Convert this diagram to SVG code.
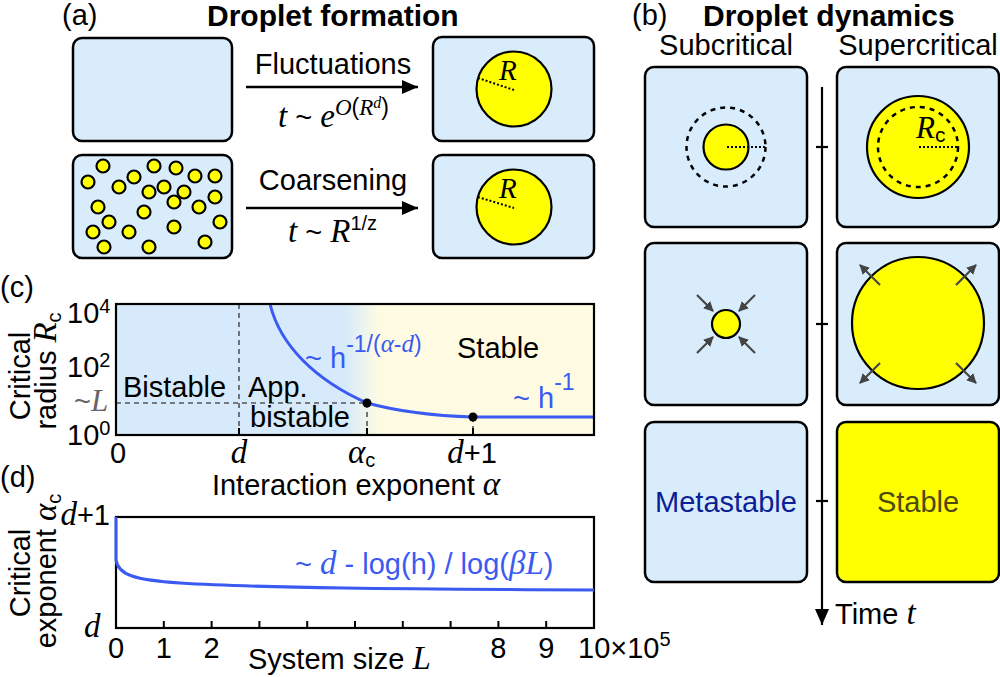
<svg xmlns="http://www.w3.org/2000/svg" width="1000" height="677" viewBox="0 0 1000 677">
<defs>
<style>
.box{fill:#d9ecfb;stroke:#000;stroke-width:2.5}
.ybox{fill:#ffff00;stroke:#000;stroke-width:2.5}
.drop{fill:#ffff00;stroke:#000;stroke-width:2.2}
.t{font-family:"Liberation Sans",Arial,sans-serif;font-size:29px;fill:#000}
.b{font-weight:bold;font-size:30px}
.m{font-family:"Liberation Serif","Times New Roman",serif;font-style:italic}
.mm{font-size:33px}
.blue{fill:#3a5af2}
.dot{stroke:#000;stroke-width:2;stroke-dasharray:2,2;fill:none}
.dash{stroke:#000;stroke-width:2.5;stroke-dasharray:5,5;fill:none}
.gdash{stroke:#555;stroke-width:1.6;stroke-dasharray:5,4;fill:none}
.garr{stroke:#444;stroke-width:2.2;fill:none;marker-end:url(#gh)}
.curve{stroke:#3a5af2;stroke-width:3;fill:none}
</style>
<marker id="ah" markerUnits="userSpaceOnUse" markerWidth="16" markerHeight="14" refX="16" refY="7" orient="auto">
<path d="M0,0 L16,7 L0,14 Z" fill="#000"/>
</marker>
<marker id="gh" markerUnits="userSpaceOnUse" markerWidth="10" markerHeight="10" refX="9" refY="5" orient="auto">
<path d="M0,0 L10,5 L0,10 Z" fill="#444"/>
</marker>
<linearGradient id="bg" x1="116" y1="0" x2="594" y2="0" gradientUnits="userSpaceOnUse">
<stop offset="0" stop-color="#d6eafb"/>
<stop offset="0.48" stop-color="#d6eafb"/>
<stop offset="0.55" stop-color="#fffbe3"/>
<stop offset="1" stop-color="#fffbe3"/>
</linearGradient>
</defs>
<rect width="1000" height="677" fill="#fff"/>

<!-- panel (a) -->
<text class="t" x="62" y="25" font-size="27">(a)</text>
<text class="t b" x="207" y="26">Droplet formation</text>

<g id="a-empty"><rect class="box" x="73" y="38" width="159" height="103" rx="9"/></g>
<g id="a-dots"><rect class="box" x="73" y="155" width="159" height="103" rx="9"/>
<g class="drop" stroke-width="1.8">
<circle cx="103" cy="166" r="6.5"/><circle cx="154" cy="166" r="6.5"/><circle cx="176" cy="168" r="6.5"/>
<circle cx="88" cy="182" r="6.5"/><circle cx="134" cy="177" r="6.5"/><circle cx="195" cy="176" r="6.5"/>
<circle cx="215" cy="176" r="6.5"/><circle cx="119" cy="187" r="6.5"/><circle cx="164" cy="187" r="6.5"/>
<circle cx="149" cy="192" r="6.5"/><circle cx="184" cy="192" r="6.5"/><circle cx="215" cy="197" r="6.5"/>
<circle cx="174" cy="202" r="6.5"/><circle cx="98" cy="207" r="6.5"/><circle cx="199" cy="207" r="6.5"/>
<circle cx="144" cy="212" r="6.5"/><circle cx="109" cy="222" r="6.5"/><circle cx="220" cy="222" r="6.5"/>
<circle cx="93" cy="232" r="6.5"/><circle cx="129" cy="232" r="6.5"/><circle cx="174" cy="227" r="6.5"/>
<circle cx="104" cy="247" r="6.5"/><circle cx="149" cy="247" r="6.5"/><circle cx="205" cy="242" r="6.5"/>
</g></g>
<g id="a-drop1"><rect class="box" x="433" y="37" width="161" height="104" rx="9"/>
<circle class="drop" cx="514" cy="89" r="37.5"/>
<line class="dot" x1="478" y1="78" x2="514" y2="90"/>
<text class="t m" x="499" y="80" font-size="30">R</text></g>
<g id="a-drop2"><rect class="box" x="433" y="155" width="161" height="103" rx="9"/>
<circle class="drop" cx="514" cy="207" r="37.5"/>
<line class="dot" x1="478" y1="197" x2="514" y2="208"/>
<text class="t m" x="499" y="198" font-size="30">R</text></g>

<g id="a-connectors">
<line x1="246" y1="87" x2="418" y2="87" stroke="#000" stroke-width="2.5" marker-end="url(#ah)"/>
<line x1="246" y1="208" x2="418" y2="208" stroke="#000" stroke-width="2.5" marker-end="url(#ah)"/>
</g>
<text class="t" x="333" y="74" text-anchor="middle">Fluctuations</text>
<text class="t" x="278" y="127"><tspan class="m mm">t</tspan><tspan> ~ </tspan><tspan class="m mm">e</tspan><tspan class="m" font-size="23" dy="-12">O</tspan><tspan font-size="23">(</tspan><tspan class="m" font-size="23">R</tspan><tspan class="m" font-size="16" dy="-7">d</tspan><tspan font-size="23" dy="7">)</tspan></text>
<text class="t" x="333" y="190" text-anchor="middle">Coarsening</text>
<text class="t" x="288" y="242"><tspan class="m mm">t</tspan><tspan> ~ </tspan><tspan class="m mm">R</tspan><tspan font-size="20" dy="-12">1/z</tspan></text>

<!-- panel (b) -->
<text class="t" x="632" y="25" font-size="27">(b)</text>
<text class="t b" x="703" y="26">Droplet dynamics</text>
<text class="t" x="726" y="55" text-anchor="middle">Subcritical</text>
<text class="t" x="918" y="55" text-anchor="middle">Supercritical</text>

<g id="b-time">
<line x1="822" y1="87" x2="822" y2="625" stroke="#000" stroke-width="2.2" marker-end="url(#ah)"/>
<line x1="816" y1="147" x2="828" y2="147" stroke="#000" stroke-width="2.2"/>
<line x1="816" y1="324" x2="828" y2="324" stroke="#000" stroke-width="2.2"/>
<line x1="816" y1="501" x2="828" y2="501" stroke="#000" stroke-width="2.2"/>
<text class="t" x="835" y="624">Time <tspan class="m mm">t</tspan></text>
</g>

<g id="b-sub1"><rect class="box" x="645" y="67" width="162" height="160" rx="9"/>
<circle class="drop" cx="726" cy="147" r="22.5"/>
<circle class="dash" cx="726" cy="147" r="39.5"/>
<line class="dot" x1="727" y1="147" x2="765" y2="147"/></g>
<g id="b-sup1"><rect class="box" x="837" y="67" width="162" height="160" rx="9"/>
<circle class="drop" cx="918" cy="147" r="51"/>
<circle class="dash" cx="918" cy="147" r="40"/>
<line class="dot" x1="919" y1="147" x2="958" y2="147"/>
<text class="t" x="916" y="138"><tspan class="m" font-size="31">R</tspan><tspan font-size="21" dy="4">c</tspan></text></g>

<g id="b-sub2"><rect class="box" x="645" y="243" width="162" height="162" rx="9"/>
<circle class="drop" cx="726" cy="324" r="14"/>
<line class="garr" x1="697" y1="295" x2="713" y2="311"/>
<line class="garr" x1="755" y1="295" x2="739" y2="311"/>
<line class="garr" x1="697" y1="353" x2="713" y2="337"/>
<line class="garr" x1="755" y1="353" x2="739" y2="337"/></g>
<g id="b-sup2"><rect class="box" x="837" y="243" width="162" height="162" rx="9"/>
<circle class="drop" cx="918" cy="323" r="66"/>
<line class="garr" x1="880" y1="285" x2="860" y2="265"/>
<line class="garr" x1="956" y1="285" x2="976" y2="265"/>
<line class="garr" x1="880" y1="363" x2="860" y2="383"/>
<line class="garr" x1="956" y1="363" x2="976" y2="383"/></g>

<g id="b-meta"><rect class="box" x="645" y="422" width="162" height="160" rx="9"/>
<text class="t" x="726" y="512" text-anchor="middle" style="fill:#0b1f96">Metastable</text></g>
<g id="b-stable"><rect class="ybox" x="837" y="422" width="162" height="160" rx="9"/>
<text class="t" x="918" y="512" text-anchor="middle" style="fill:#4d4a10">Stable</text></g>

<!-- panel (c) -->
<text class="t" x="0" y="297" font-size="27">(c)</text>
<g id="c-plot">
<rect x="116" y="304" width="478" height="131" fill="url(#bg)"/>
<line class="gdash" x1="239" y1="304" x2="239" y2="435"/>
<line class="gdash" x1="116" y1="403" x2="367" y2="403"/>
<line class="gdash" x1="367" y1="403" x2="367" y2="435"/>
<line class="gdash" x1="473" y1="417" x2="473" y2="435"/>
<g stroke="#000" stroke-width="2">
<line x1="239" y1="428" x2="239" y2="435"/><line x1="367" y1="428" x2="367" y2="435"/><line x1="473" y1="428" x2="473" y2="435"/>
</g>
<path class="curve" d="M270,304 C280,345 315,380 367,403 C400,412 440,416 473,417 L594,417"/>
<circle cx="367" cy="403" r="4.5" fill="#000"/>
<circle cx="473" cy="417" r="4.5" fill="#000"/>
<rect x="116" y="304" width="478" height="131" fill="none" stroke="#000" stroke-width="2.2"/>
<text class="t" x="123" y="397">Bistable</text>
<text class="t" x="248" y="397">App.</text>
<text class="t" x="250" y="427">bistable</text>
<text class="t" x="457" y="358">Stable</text>
<text class="t blue" x="305" y="368">~ h<tspan font-size="23" dy="-16">-1/(</tspan><tspan class="m" font-size="25">α</tspan><tspan font-size="23">-</tspan><tspan class="m" font-size="25">d</tspan><tspan font-size="23">)</tspan></text>
<text class="t blue" x="513" y="408">~ h<tspan font-size="23" dy="-18">-1</tspan></text>
</g>
<g id="c-axes">
<text class="t" x="67" y="323">10<tspan font-size="20" dy="-10">4</tspan></text>
<text class="t" x="67" y="377">10<tspan font-size="20" dy="-10">2</tspan></text>
<text class="t" x="74" y="411" style="fill:#666">~<tspan class="m" font-size="31">L</tspan></text>
<text class="t" x="67" y="445">10<tspan font-size="20" dy="-10">0</tspan></text>
<text class="t" x="118" y="463" text-anchor="middle">0</text>
<text class="t m mm" x="239" y="463" text-anchor="middle">d</text>
<text class="t" x="348" y="463"><tspan class="m mm">α</tspan><tspan font-size="20" dy="4">c</tspan></text>
<text class="t" x="472" y="463" text-anchor="middle"><tspan class="m mm">d</tspan>+1</text>
<text class="t" x="356" y="495" text-anchor="middle">Interaction exponent <tspan class="m mm">α</tspan></text>
<text class="t" transform="translate(30,376) rotate(-90)" text-anchor="middle">Critical</text>
<text class="t" transform="translate(56,371) rotate(-90)" text-anchor="middle">radius <tspan class="m mm">R</tspan><tspan font-size="20" dy="5">c</tspan></text>
</g>

<!-- panel (d) -->
<text class="t" x="0" y="487" font-size="27">(d)</text>
<g id="d-plot">
<rect x="116" y="517" width="478" height="111" fill="#fff" stroke="#000" stroke-width="2.2"/>
<g stroke="#000" stroke-width="2">
<line x1="163.8" y1="628" x2="163.8" y2="621"/><line x1="211.6" y1="628" x2="211.6" y2="621"/>
<line x1="259.4" y1="628" x2="259.4" y2="621"/><line x1="307.2" y1="628" x2="307.2" y2="621"/>
<line x1="355" y1="628" x2="355" y2="621"/><line x1="402.8" y1="628" x2="402.8" y2="621"/>
<line x1="450.6" y1="628" x2="450.6" y2="621"/><line x1="498.4" y1="628" x2="498.4" y2="621"/>
<line x1="546.2" y1="628" x2="546.2" y2="621"/>
</g>
<path class="curve" d="M116,517 L116,560 C118,575 135,580 180,583 C260,588 400,589 594,590"/>
<text class="t blue" x="295" y="574">~ <tspan class="m mm">d</tspan> - log(h) / log(<tspan class="m mm">βL</tspan>)</text>
</g>
<g id="d-axes">
<text class="t" x="110" y="525" text-anchor="end"><tspan class="m mm">d</tspan>+1</text>
<text class="t m mm" x="84" y="637">d</text>
<text class="t" x="116" y="658" text-anchor="middle">0</text>
<text class="t" x="163.8" y="658" text-anchor="middle">1</text>
<text class="t" x="211.6" y="658" text-anchor="middle">2</text>
<text class="t" x="498.4" y="658" text-anchor="middle">8</text>
<text class="t" x="546.2" y="658" text-anchor="middle">9</text>
<text class="t" x="578" y="658">10×10<tspan font-size="20" dy="-12">5</tspan></text>
<text class="t" x="248" y="669">System size <tspan class="m mm">L</tspan></text>
<text class="t" transform="translate(30,573) rotate(-90)" text-anchor="middle">Critical</text>
<text class="t" transform="translate(56,571) rotate(-90)" text-anchor="middle">exponent <tspan class="m mm">α</tspan><tspan font-size="20" dy="5">c</tspan></text>
</g>
</svg>
